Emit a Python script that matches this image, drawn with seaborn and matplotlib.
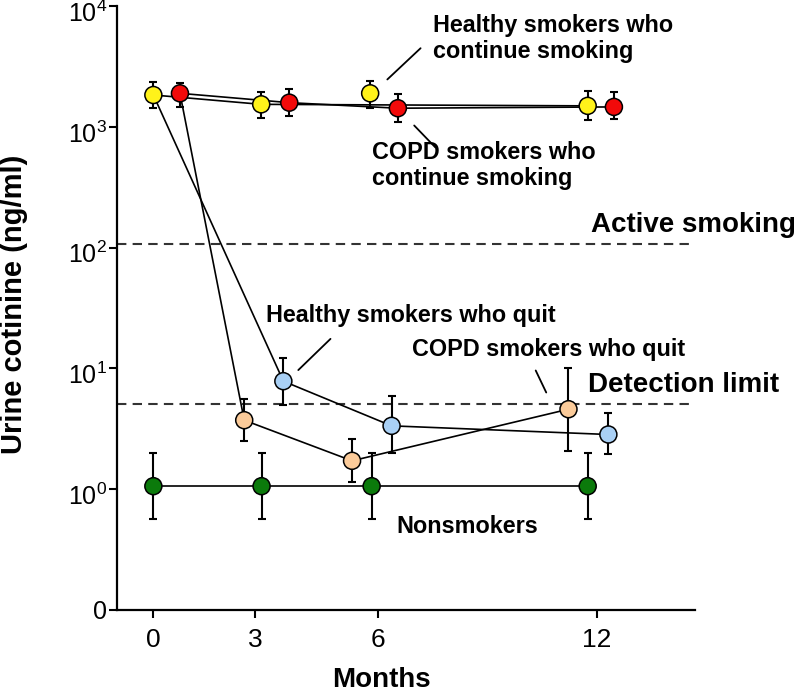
import numpy as np
import pandas as pd
import seaborn as sns
import matplotlib.pyplot as plt
from matplotlib.transforms import ScaledTranslation

# months after baseline (groups are drawn slightly offset around each visit)
hc_x = [0.0, 2.92, 5.87, 11.76]      # healthy smokers who continue smoking
hc_y = [1840, 1540, 1900, 1496]
hc_lo = [1430, 1180, 1430, 1145]
hc_hi = [2370, 1960, 2420, 2000]

cc_x = [0.72, 3.68, 6.62, 12.47]     # COPD smokers who continue smoking
cc_y = [1900, 1590, 1430, 1466]
cc_lo = [1455, 1233, 1094, 1165]
cc_hi = [2330, 2050, 1870, 1960]

hq_x = [3.52, 6.45, 12.32]           # healthy smokers who quit
hq_y = [7.85, 3.35, 2.84]
hq_lo = [5.0, 1.99, 1.94]
hq_hi = [12.1, 5.9, 4.3]

cq_x = [2.46, 5.38, 11.24]           # COPD smokers who quit
cq_y = [3.73, 1.72, 4.6]
cq_lo = [2.51, 1.15, 2.06]
cq_hi = [5.64, 2.6, 10.1]

ns_x = [0.0, 2.93, 5.91, 11.76]      # nonsmokers
ns_y = [1.06, 1.06, 1.06, 1.06]
ns_lo = [0.57, 0.57, 0.57, 0.57]
ns_hi = [1.98, 1.98, 1.98, 1.98]

active_smoking = 107
detection_limit = 5.1

month_ticks = [0, 2.76, 6.07, 12]
month_labels = ["0", "3", "6", "12"]
y_ticks = [0.1, 1, 10, 100, 1000, 10000]
y_labels = ["0", "$10^{0}$", "$10^{1}$", "$10^{2}$", "$10^{3}$", "$10^{4}$"]

colors = {
    "hc": "#FFF21A",
    "cc": "#F20A0A",
    "hq": "#A9D0F5",
    "cq": "#FBCB9A",
    "ns": "#0B7A0B",
}

sns.set_style("ticks")
plt.rcParams["font.family"] = ["Liberation Sans", "DejaVu Sans"]
plt.rcParams["mathtext.fontset"] = "custom"
plt.rcParams["mathtext.rm"] = "Liberation Sans"
plt.rcParams["mathtext.default"] = "regular"
for key in ("text.color", "axes.labelcolor", "xtick.color", "ytick.color"):
    plt.rcParams[key] = "black"

groups = {
    "hc": (hc_x, hc_y, hc_lo, hc_hi),
    "cc": (cc_x, cc_y, cc_lo, cc_hi),
    "hq": (hq_x, hq_y, hq_lo, hq_hi),
    "cq": (cq_x, cq_y, cq_lo, cq_hi),
    "ns": (ns_x, ns_y, ns_lo, ns_hi),
}
rows = []
for g, (xs, ys, lo, hi) in groups.items():
    for x, y, l, h in zip(xs, ys, lo, hi):
        rows.append({"group": g, "month": x, "value": y, "lo": l, "hi": h})
df = pd.DataFrame(rows)

fig = plt.figure(figsize=(8, 6.92), dpi=100)
ax = fig.add_axes([0.146, 0.1185, 0.7225, 0.8725])

# connecting lines (quitters start from the baseline smoker value)
line_paths = [
    ([hc_x[0], hc_x[1], hc_x[3]], [hc_y[0], hc_y[1], hc_y[3]]),
    (cc_x, cc_y),
    ([hc_x[0]] + hq_x, [hc_y[0]] + hq_y),
    ([cc_x[0]] + cq_x, [cc_y[0]] + cq_y),
    (ns_x, ns_y),
]
for xs, ys in line_paths:
    sns.lineplot(x=xs, y=ys, sort=False, estimator=None, color="black",
                 lw=1.2, ax=ax, zorder=2)

# error bars
ax.errorbar(df["month"], df["value"],
            yerr=[df["value"] - df["lo"], df["hi"] - df["value"]],
            fmt="none", ecolor="black", elinewidth=1.5, capsize=2.7,
            capthick=1.5, zorder=3)

sns.scatterplot(data=df, x="month", y="value", hue="group", palette=colors,
                s=150, edgecolor="black", linewidth=1.1, legend=False,
                ax=ax, zorder=4)

# reference levels
for level in (active_smoking, detection_limit):
    ax.axhline(level, color="#333333", lw=1.5, ls=(0, (4.5, 3)), zorder=1)

ax.set_yscale("log")
ax.set_ylim(0.1, 10000)
ax.set_xlim(-0.99, 14.66)
ax.set_yticks(y_ticks)
ax.set_yticklabels(y_labels)
ax.minorticks_off()
ax.set_xticks(month_ticks)
ax.set_xticklabels(month_labels)
ax.tick_params(axis="both", width=1.5, length=6, color="black")
ax.tick_params(axis="y", pad=1, labelsize=18)
ax.tick_params(axis="x", pad=7, labelsize=19)
shift = ScaledTranslation(0, -5 / 100, fig.dpi_scale_trans)
for lab in ax.get_yticklabels()[1:]:
    lab.set_transform(lab.get_transform() + shift)
sns.despine(ax=ax)
for s in ("left", "bottom"):
    ax.spines[s].set_linewidth(1.6)
    ax.spines[s].set_color("black")

ax.set_xlabel("Months", fontsize=20, fontweight="bold")
ax.xaxis.set_label_coords(0.457, -0.094)
ax.set_ylabel("Urine cotinine (ng/ml)", fontsize=21, fontweight="bold")
ax.yaxis.set_label_coords(-0.154, 0.507)

# annotations
tk = dict(fontsize=16.8, fontweight="bold", color="black")
ax.text(7.56, 5420, "Healthy smokers who\ncontinue smoking", ha="left",
        va="center", linespacing=1.2, **tk)
ax.text(5.93, 480, "COPD smokers who\ncontinue smoking", ha="left",
        va="center", linespacing=1.2, **tk)
ax.text(3.06, 24.3, "Healthy smokers who quit", ha="left", va="baseline", **tk)
ax.text(7.01, 12.7, "COPD smokers who quit", ha="left", va="baseline", **tk)
ax.text(6.58, 0.431, "Nonsmokers", ha="left", va="baseline", **tk)
ax.text(11.86, 135.8, "Active smoking", ha="left", va="baseline",
        fontsize=20, fontweight="bold", color="black", clip_on=False)
ax.text(11.78, 6.38, "Detection limit", ha="left", va="baseline",
        fontsize=20, fontweight="bold", color="black", clip_on=False)

lk = dict(arrowstyle="-", color="black", lw=1.3)
ax.annotate("", xy=(6.28, 2387), xytext=(7.29, 4656), arrowprops=lk)
ax.annotate("", xy=(7.01, 1069), xytext=(7.69, 651), arrowprops=lk)
ax.annotate("", xy=(3.87, 9.35), xytext=(4.85, 18.25), arrowprops=lk)
ax.annotate("", xy=(10.32, 10.1), xytext=(10.67, 6.03), arrowprops=lk)

fig.savefig("out.png", dpi=100)
